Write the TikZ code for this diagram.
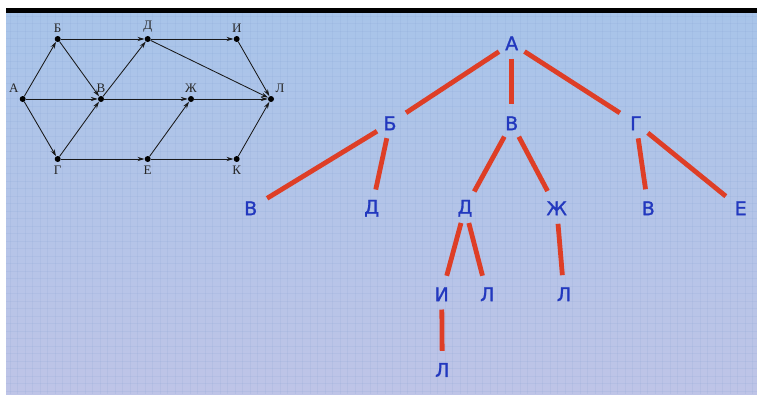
\documentclass[tikz,border=0pt]{standalone}
\usepackage{fontspec}
\setmainfont{Liberation Serif}
\newfontfamily\treefont[FakeBold=1.3]{DejaVu Sans}
\usetikzlibrary{arrows.meta}
\definecolor{bgtop}{RGB}{168,196,233}
\definecolor{bgbot}{RGB}{190,196,231}
\definecolor{gridc}{RGB}{120,150,205}
\definecolor{treeblue}{RGB}{34,56,190}
\definecolor{treered}{RGB}{222,62,38}
\tikzset{
  vert/.style={circle,fill=black,inner sep=0pt,minimum size=6pt,label distance=0pt},
  edge/.style={draw=black!90,line width=0.85pt,-{Stealth[length=7pt,width=4.2pt]}},
  gridline/.style={draw=gridc,line width=0.4pt,opacity=0.12},
  tnode/.style={circle,inner sep=0pt,minimum size=24pt,text=treeblue,font=\treefont\fontsize{19}{19}\selectfont},
  branch/.style={draw=treered,line width=4.8pt,shorten <=3pt,shorten >=7pt}
}

\begin{document}
\begin{tikzpicture}[x=1pt,y=-1pt,every label/.style={font=\fontsize{13}{13}\selectfont,text=black!85}]
  \useasboundingbox (0,0) rectangle (757,394);
  \fill[white] (0,0) rectangle (757,394);
  \shade[top color=bgtop,bottom color=bgbot] (6,12) rectangle (757,394);
  \foreach \gx in {10,17.5,...,757} \draw[gridline] (\gx,12) -- (\gx,394);
  \foreach \gy in {16,23.5,...,394} \draw[gridline] (6,\gy) -- (757,\gy);
  \fill[black] (6,8) rectangle (757,12.5);

  % graph of roads
  \node[vert,label=100:{А}] (vA) at (22.7,99) {};
  \node[vert,label=above:{Б}] (vB) at (57.7,39) {};
  \node[vert,label=above:{Д}] (vD) at (147.7,39) {};
  \node[vert,label=above:{И}] (vI) at (236.7,39) {};
  \node[vert,label=above:{В}] (vV) at (101,99) {};
  \node[vert,label=above:{Ж}] (vZh) at (191,99) {};
  \node[vert,label=70:{Л}] (vL) at (271,99) {};
  \node[vert,label=below:{Г}] (vG) at (57.7,159) {};
  \node[vert,label=below:{Е}] (vE) at (147.7,159) {};
  \node[vert,label=below:{К}] (vK) at (236.7,159) {};
  \draw[edge] (vA) -- (vB);
  \draw[edge] (vA) -- (vV);
  \draw[edge] (vA) -- (vG);
  \draw[edge] (vB) -- (vD);
  \draw[edge] (vB) -- (vV);
  \draw[edge] (vG) -- (vV);
  \draw[edge] (vV) -- (vD);
  \draw[edge] (vV) -- (vZh);
  \draw[edge] (vG) -- (vE);
  \draw[edge] (vE) -- (vZh);
  \draw[edge] (vE) -- (vK);
  \draw[edge] (vD) -- (vI);
  \draw[edge] (vD) -- (vL);
  \draw[edge] (vI) -- (vL);
  \draw[edge] (vZh) -- (vL);
  \draw[edge] (vK) -- (vL);

  % tree of paths
  \node[tnode] (tA) at (511.7,43.3) {А};
  \node[tnode] (tB) at (390,123.3) {Б};
  \node[tnode] (tV) at (511.7,123.3) {В};
  \node[tnode] (tG) at (636,123.3) {Г};
  \node[tnode] (tBV) at (250.7,208.3) {В};
  \node[tnode] (tBD) at (371.7,208.3) {Д};
  \node[tnode] (tVD) at (465,208.3) {Д};
  \node[tnode] (tVZh) at (556.7,208.3) {Ж};
  \node[tnode] (tGV) at (648.3,208.3) {В};
  \node[tnode] (tGE) at (740.7,208.3) {Е};
  \node[tnode] (tDI) at (441.7,294.3) {И};
  \node[tnode] (tDL) at (487.3,294.3) {Л};
  \node[tnode] (tZhL) at (564,294.3) {Л};
  \node[tnode] (tIL) at (442.3,370) {Л};
  \draw[branch] (tA) -- (tB);
  \draw[branch] (tA) -- (tV);
  \draw[branch] (tA) -- (tG);
  \draw[branch] (tB) -- (tBV);
  \draw[branch] (tB) -- (tBD);
  \draw[branch] (tV) -- (tVD);
  \draw[branch] (tV) -- (tVZh);
  \draw[branch] (tG) -- (tGV);
  \draw[branch] (tG) -- (tGE);
  \draw[branch] (tVD) -- (tDI);
  \draw[branch] (tVD) -- (tDL);
  \draw[branch] (tVZh) -- (tZhL);
  \draw[branch] (tDI) -- (tIL);
\end{tikzpicture}
\end{document}
